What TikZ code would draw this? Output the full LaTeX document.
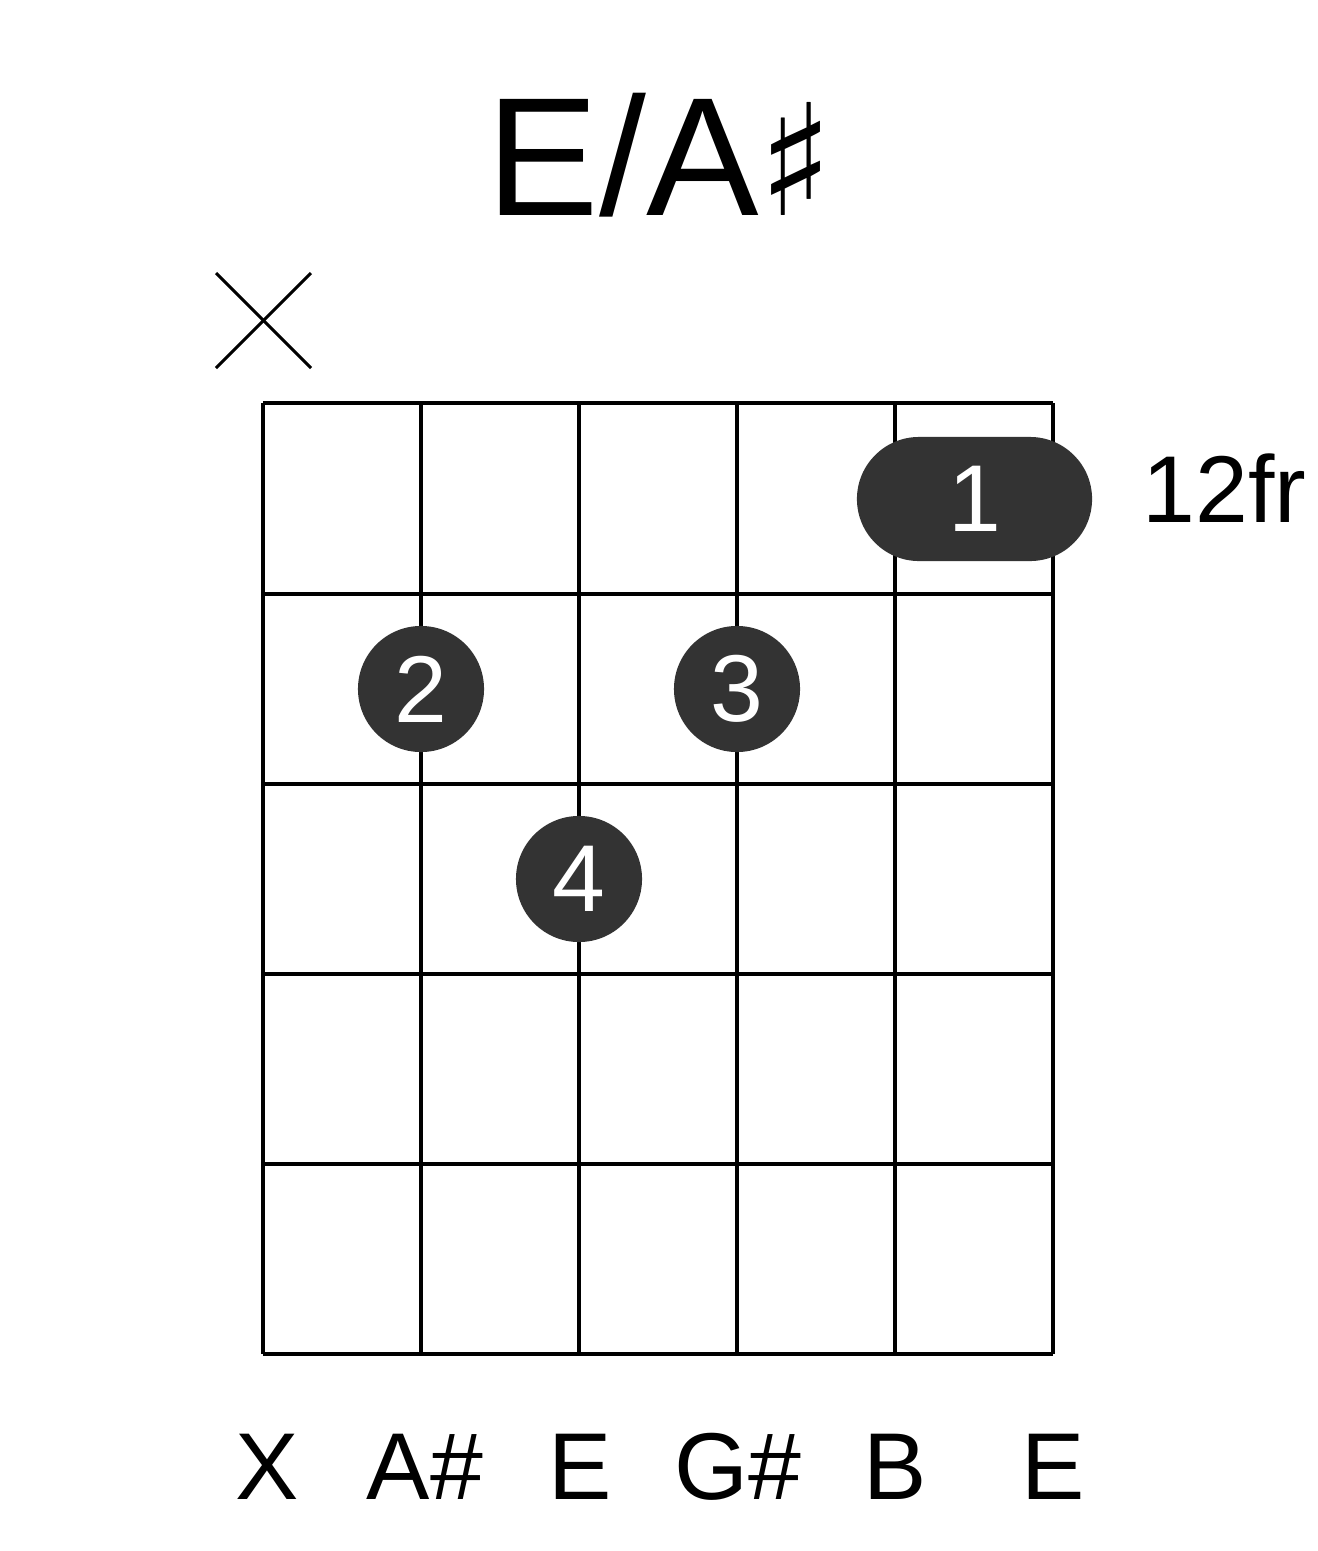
\documentclass[tikz,border=0pt]{standalone}
\usepackage{fontspec}
\setmainfont{Liberation Sans}
\newfontfamily\symfont{DejaVu Sans}
\usetikzlibrary{positioning}
\definecolor{dotgray}{HTML}{333333}
\tikzset{
  fret/.style={line width=4pt*0.2845/1},
  finger/.style={circle, fill=dotgray, minimum size=1.26cm, inner sep=0pt, text=white, font=\fontsize{27}{27}\selectfont},
  notelabel/.style={font=\fontsize{27}{27}\selectfont}
}
\begin{document}
\begin{tikzpicture}[x=0.01cm, y=-0.01cm]
        \useasboundingbox (0,0) rectangle (1317,1551);
        % grid of strings and frets
        \foreach \sx in {263,421,579,737,895,1053}
            \draw[line width=1.14pt] (\sx,403) -- (\sx,1354);
        \foreach \fy in {403,594,784,974,1164,1354}
            \draw[line width=1.14pt] (263,\fy) -- (1053,\fy);
        % title
        \node[font=\fontsize{48}{48}\selectfont] (title) at (660,155) {E/A{\symfont\fontsize{44}{44}\selectfont ♯}};
        % muted string
        \coordinate (mutetl) at (216,273);
        \coordinate (mutebr) at (311,368);
        \coordinate (mutebl) at (216,368);
        \coordinate (mutetr) at (311,273);
        \draw[line width=0.85pt] (mutetl) -- (mutebr);
        \draw[line width=0.85pt] (mutebl) -- (mutetr);
        % barre and fingers
        \node[fill=dotgray, rounded corners=0.62cm, minimum width=2.35cm, minimum height=1.24cm, text=white, font=\fontsize{27}{27}\selectfont] (barre) at (974.5,499) {1};
        \node[finger] (f2) at (421,689) {2};
        \node[finger] (f3) at (737,689) {3};
        \node[finger] (f4) at (579,879) {4};
        \node[notelabel, anchor=west] (fretno) at (1130,488) {12fr};
        % string notes
        \node[notelabel] (n1) at (267,1467) {X};
        \node[notelabel] (n2) at (425,1467) {A\#};
        \node[notelabel] (n3) at (580,1467) {E};
        \node[notelabel] (n4) at (738,1467) {G\#};
        \node[notelabel] (n5) at (895,1467) {B};
        \node[notelabel] (n6) at (1053,1467) {E};
\end{tikzpicture}
\end{document}
